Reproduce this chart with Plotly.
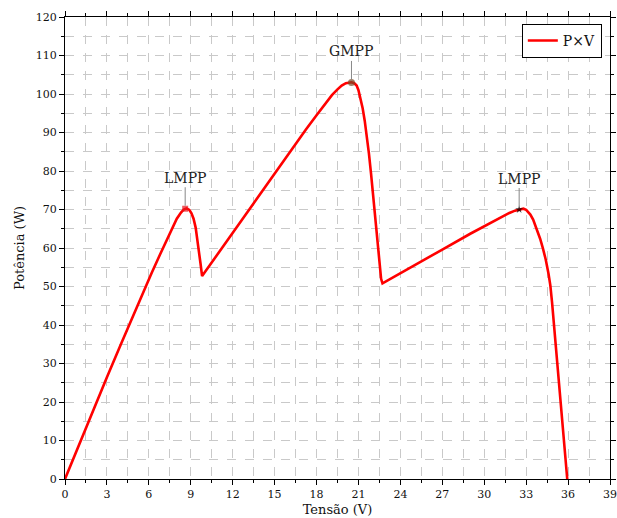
import plotly.graph_objects as go

# Curve P x V (Tensão in V, Potência in W)
tensao = [0, 1, 2, 3, 4, 5, 5.6, 6.2, 6.8, 7.3, 7.7, 8.0, 8.3, 8.5, 8.7, 8.9, 9.05, 9.2, 9.35, 9.5, 9.6, 9.7, 9.81,
          12, 14, 16, 17.24, 18, 18.6, 19.1, 19.5, 19.8, 20.1, 20.3, 20.5, 20.7, 20.87, 21.0, 21.15, 21.3, 21.45,
          21.6, 21.75, 21.9, 22.05, 22.2, 22.35, 22.5, 22.62, 22.72,
          25, 27, 29, 30.5, 31.3, 31.8, 32.2, 32.5, 32.8, 33.0, 33.3, 33.5, 33.8, 34.0, 34.2, 34.4, 34.6,
          34.73, 34.85, 34.97, 35.21, 35.45, 35.69, 35.94]
potencia = [0, 8.9, 17.7, 26.4, 35.0, 43.5, 48.4, 53.5, 58.3, 62.2, 65.4, 67.6, 69.2, 70.0, 70.3, 69.9, 69.0, 67.6, 65.3, 61.8, 59.0, 55.9, 52.7,
            64.0, 74.3, 84.5, 90.8, 94.5, 97.4, 99.7, 101.2, 102.2, 102.8, 103.0, 103.05, 102.8, 102.2, 101.0, 99.0, 96.3, 93.0,
            89.0, 84.5, 79.3, 73.5, 67.4, 61.2, 55.3, 52.0, 50.8,
            55.4, 59.6, 63.7, 66.7, 68.2, 69.1, 69.7, 70.0, 70.2, 69.9, 68.7, 67.4, 64.6, 62.4, 59.9, 57.0, 53.3,
            50.3, 46.0, 41.0, 30.7, 20.4, 10.2, 0]

# Marked points
mpp_labels = ["LMPP", "GMPP", "LMPP"]
mpp_v = [8.6, 20.5, 32.5]
mpp_p = [70.2, 103.0, 70.0]
mpp_colors = ["#e8141c", "#7a4a26", "#000000"]
mpp_symbols = ["square", "circle", "star"]

x_ticks = list(range(0, 40, 3))
y_ticks = list(range(0, 121, 10))

FAM = "DejaVu Serif"

fig = go.Figure()
fig.add_trace(go.Scatter(x=tensao, y=potencia, mode="lines", name="P×V",
                         line=dict(color="#ff0000", width=2.6)))
fig.add_trace(go.Scatter(x=mpp_v, y=mpp_p, mode="markers", showlegend=False,
                         marker=dict(color=mpp_colors, symbol=mpp_symbols, size=[6, 7, 6],
                                     line=dict(width=0))))

for lab, v, p in zip(mpp_labels, mpp_v, mpp_p):
    fig.add_annotation(x=v, y=p, text=lab, showarrow=True, arrowhead=0, arrowwidth=1,
                       arrowcolor="#888888", ax=0, ay=-31, standoff=3,
                       font=dict(family=FAM, size=14, color="#222222"))

tickfont = dict(family=FAM, size=11, color="#111111")
titlefont = dict(family=FAM, size=13, color="#111111")
axis_common = dict(showline=True, linecolor="black", linewidth=1.3, mirror="ticks",
                   ticks="outside", ticklen=5, tickcolor="black", tickwidth=1,
                   showgrid=True, gridcolor="#c9c9c9", griddash="dash", gridwidth=1,
                   zeroline=False, tickfont=tickfont, automargin=False,
                   ticklabeloverflow="allow")

fig.update_xaxes(range=[0, 39], tickvals=x_ticks,
                 minor=dict(dtick=1.5, tick0=0, ticks="outside", ticklen=3, tickcolor="black",
                            showgrid=True, gridcolor="#c9c9c9", griddash="dash", gridwidth=1),
                 title=dict(text="Tensão (V)", font=titlefont, standoff=4),
                 **axis_common)
fig.update_yaxes(range=[0, 120], tickvals=y_ticks,
                 minor=dict(dtick=5, tick0=0, ticks="outside", ticklen=3, tickcolor="black",
                            showgrid=True, gridcolor="#c9c9c9", griddash="dash", gridwidth=1),
                 title=dict(text="Potência (W)", font=titlefont, standoff=8),
                 **axis_common)

fig.update_layout(width=617, height=518, margin=dict(l=65, r=7, t=17, b=39, autoexpand=False),
                  plot_bgcolor="white", paper_bgcolor="white", font=tickfont,
                  legend=dict(x=0.985, y=0.985, xanchor="right", yanchor="top",
                              bgcolor="white", bordercolor="black", borderwidth=1,
                              font=dict(family=FAM, size=14)))

fig.write_html("out.html")
